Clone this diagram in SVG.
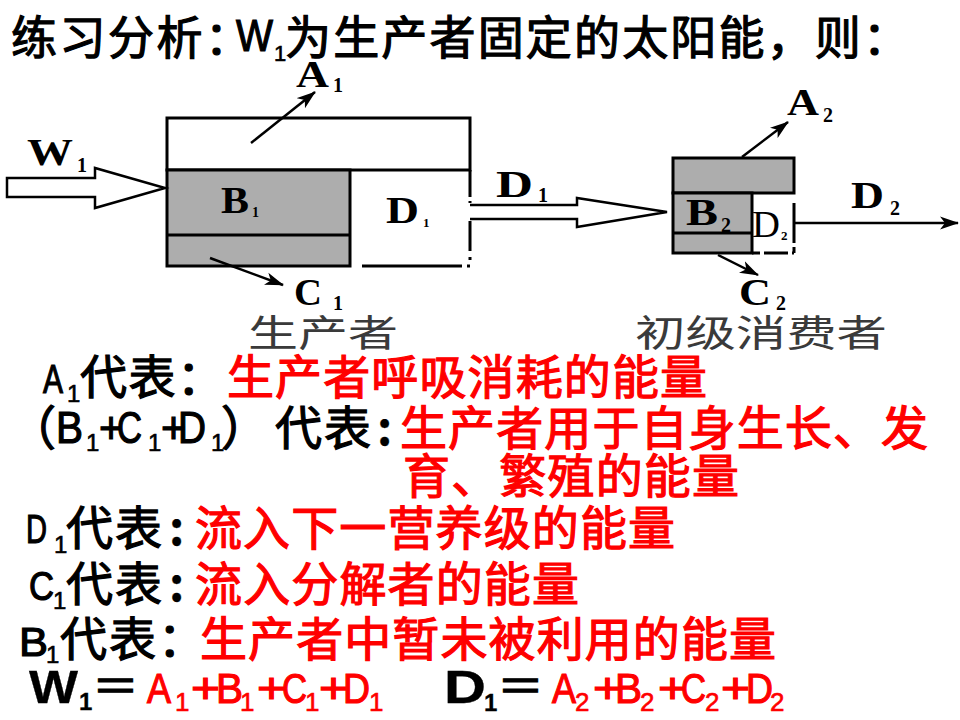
<svg xmlns="http://www.w3.org/2000/svg" width="960" height="720" viewBox="0 0 960 720">
<defs>
<style>
.cn{font-family:"Noto Sans CJK SC","Noto Sans CJK TC",sans-serif;font-size:47px;fill:#000;stroke:#000;stroke-width:1.2}
.tt{font-size:46px}
.la{font-family:"Liberation Sans",Arial,sans-serif;font-size:41px;fill:#000;stroke:#000;stroke-width:1.2}
.lf{font-size:42px}
.sub{font-family:"Liberation Sans",Arial,sans-serif;font-size:24px;fill:#000;stroke:#000;stroke-width:0.6}
.sr{font-size:26px}
.red{fill:#ff0000;stroke:#ff0000}
.bd{font-weight:bold;stroke-width:0.3}
.lb{font-family:"Liberation Serif","Times New Roman",serif;font-weight:bold;font-size:37px;fill:#000}
.ls{font-family:"Liberation Serif","Times New Roman",serif;font-weight:bold;font-size:20px;fill:#000}
.cap{font-family:"Noto Sans CJK SC",sans-serif;font-size:37px;fill:#3a3a3a}
.ln{stroke:#000;stroke-width:3;fill:none}
.gray{fill:#adadad;stroke:#000;stroke-width:3}
.conn{stroke:#000;stroke-width:2.5;fill:none}
.hollow{fill:#fff;stroke:#000;stroke-width:2.5;stroke-linejoin:miter}
</style>
<marker id="ah" markerUnits="userSpaceOnUse" markerWidth="20" markerHeight="14" refX="18" refY="7" orient="auto">
<path d="M0,0.5 L19,7 L0,13.5 L5,7 Z" fill="#000"/>
</marker>
</defs>
<rect width="960" height="720" fill="#fff"/>

<g id="title">
<text class="cn tt" x="11" y="54" textLength="240">练习分析：</text>
<text class="la" style="font-size:44px" x="236" y="51" textLength="37" lengthAdjust="spacingAndGlyphs">W</text>
<text class="sub" style="font-size:22px" x="274" y="61">1</text>
<text class="cn tt" x="285" y="54" textLength="624">为生产者固定的太阳能，则：</text>
</g>

<g id="producer">
<rect x="167" y="118" width="303" height="52" fill="#fff" stroke="#000" stroke-width="3"/>
<rect class="gray" x="167" y="170" width="183" height="96"/>
<line class="ln" x1="167" y1="235" x2="350" y2="235"/>
<line class="ln" x1="470" y1="170" x2="470" y2="203" stroke-dasharray="27 4"/>
<line class="ln" x1="470" y1="221" x2="470" y2="266" stroke-dasharray="30 6 3 6"/>
<line class="ln" x1="362" y1="266" x2="470" y2="266" stroke-dasharray="100 5 3 10"/>
<text class="lb" x="221" y="213" textLength="28" lengthAdjust="spacingAndGlyphs">B</text>
<text class="ls" style="font-size:14px" x="252" y="217">1</text>
<text class="lb" x="386" y="223" textLength="33" lengthAdjust="spacingAndGlyphs">D</text>
<text class="ls" style="font-size:13px" x="423" y="227">1</text>
<text class="cap" x="248" y="347" textLength="150" lengthAdjust="spacingAndGlyphs">生产者</text>
</g>

<g id="consumer">
<rect class="gray" x="673" y="158" width="121" height="35"/>
<rect class="gray" x="673" y="193" width="79" height="60"/>
<line class="ln" x1="673" y1="233" x2="752" y2="233"/>
<line class="ln" x1="794" y1="203" x2="794" y2="253" stroke-dasharray="40 4 6 0"/>
<line class="ln" x1="752" y1="253" x2="794" y2="253" stroke-dasharray="8 4 24 4"/>
<text class="lb" x="686" y="225" textLength="32" lengthAdjust="spacingAndGlyphs">B</text>
<text class="ls" x="721" y="232">2</text>
<text class="lb" style="font-weight:normal" x="752" y="237" textLength="28" lengthAdjust="spacingAndGlyphs">D</text>
<text class="ls" style="font-size:13px" x="781" y="240">2</text>
<text class="cap" x="635" y="347" textLength="252" lengthAdjust="spacingAndGlyphs">初级消费者</text>
</g>

<g id="connectors">
<path class="hollow" d="M7,178 L95,178 L95,168 L165,188 L95,208 L95,197 L7,197 Z"/>
<path class="hollow" d="M470,205 L577,205 L577,198 L667,212 L577,227 L577,219 L470,219"/>
<line class="conn" x1="251" y1="143" x2="315" y2="92" marker-end="url(#ah)"/>
<line class="conn" x1="210" y1="258" x2="283" y2="285" marker-end="url(#ah)"/>
<line class="conn" x1="742" y1="157" x2="788" y2="122" marker-end="url(#ah)"/>
<line class="conn" x1="718" y1="255" x2="758" y2="275" marker-end="url(#ah)"/>
<line class="conn" x1="794" y1="223" x2="958" y2="223" marker-end="url(#ah)"/>
</g>

<g id="flow-labels">
<text class="lb" x="27" y="165" textLength="46" lengthAdjust="spacingAndGlyphs">W</text>
<text class="ls" x="77" y="172">1</text>
<text class="lb" x="296" y="87" textLength="33" lengthAdjust="spacingAndGlyphs">A</text>
<text class="ls" x="333" y="92">1</text>
<text class="lb" x="294" y="305" textLength="28" lengthAdjust="spacingAndGlyphs">C</text>
<text class="ls" x="333" y="310">1</text>
<text class="lb" x="496" y="197" textLength="37" lengthAdjust="spacingAndGlyphs">D</text>
<text class="ls" x="538" y="202">1</text>
<text class="lb" x="787" y="115" textLength="32" lengthAdjust="spacingAndGlyphs">A</text>
<text class="ls" x="823" y="122">2</text>
<text class="lb" x="739" y="305" textLength="32" lengthAdjust="spacingAndGlyphs">C</text>
<text class="ls" x="776" y="310">2</text>
<text class="lb" x="851" y="208" textLength="33" lengthAdjust="spacingAndGlyphs">D</text>
<text class="ls" x="890" y="215">2</text>
</g>

<g id="notes">
<text class="la" x="43" y="393" textLength="20" lengthAdjust="spacingAndGlyphs">A</text>
<text class="sub" x="67" y="402">1</text>
<text class="cn" x="80" y="394" textLength="144">代表：</text>
<text class="cn red" x="227" y="394" textLength="480">生产者呼吸消耗的能量</text>

<text class="cn" x="56" y="445" text-anchor="end">（</text>
<text class="la" style="font-size:44px" x="56" y="443" textLength="27" lengthAdjust="spacingAndGlyphs">B</text>
<text class="sub" x="86" y="451">1</text>
<text class="la" style="font-size:44px" x="99" y="443" textLength="24" lengthAdjust="spacingAndGlyphs">+</text>
<text class="la" style="font-size:44px" x="117" y="443" textLength="25" lengthAdjust="spacingAndGlyphs">C</text>
<text class="sub" x="148" y="451">1</text>
<text class="la" style="font-size:44px" x="161" y="443" textLength="25" lengthAdjust="spacingAndGlyphs">+</text>
<text class="la" style="font-size:44px" x="178" y="443" textLength="28" lengthAdjust="spacingAndGlyphs">D</text>
<text class="sub" x="211" y="451">1</text>
<text class="cn" x="221" y="445">）</text>
<text class="cn" x="275" y="445" textLength="96">代表</text>
<text class="cn bd" x="377" y="445">:</text>
<text class="cn red" x="400" y="445" textLength="528">生产者用于自身生长、发</text>
<text class="cn red" x="403" y="493" textLength="336">育、繁殖的能量</text>

<text class="la" x="26" y="543" textLength="21" lengthAdjust="spacingAndGlyphs">D</text>
<text class="sub" x="54" y="553">1</text>
<text class="cn" x="66" y="545" textLength="96">代表</text>
<text class="cn bd" x="169" y="545">:</text>
<text class="cn red" x="195" y="545" textLength="480">流入下一营养级的能量</text>

<text class="la" x="29" y="600" textLength="25" lengthAdjust="spacingAndGlyphs">C</text>
<text class="sub" x="53" y="609">1</text>
<text class="cn" x="66" y="601" textLength="96">代表</text>
<text class="cn bd" x="169" y="601">:</text>
<text class="cn red" x="195" y="601" textLength="384">流入分解者的能量</text>

<text class="la" x="19" y="656" textLength="29" lengthAdjust="spacingAndGlyphs">B</text>
<text class="sub" x="46" y="663">1</text>
<text class="cn" x="60" y="656" textLength="96">代表</text>
<text class="cn" x="158" y="656">：</text>
<text class="cn red" x="200" y="656" textLength="576">生产者中暂未被利用的能量</text>

<text class="la bd" style="font-size:46px" x="29" y="703" textLength="49" lengthAdjust="spacingAndGlyphs">W</text>
<text class="sub bd" x="79" y="710">1</text>
<text class="cn" x="92" y="703">＝</text>
<text class="la lf red" x="147" y="703" textLength="24" lengthAdjust="spacingAndGlyphs">A</text>
<text class="sub sr red" x="175" y="711">1</text>
<text class="la lf red" x="191" y="703" textLength="29" lengthAdjust="spacingAndGlyphs">+</text>
<text class="la lf red" x="216" y="703" textLength="27" lengthAdjust="spacingAndGlyphs">B</text>
<text class="sub sr red" x="240" y="711">1</text>
<text class="la lf red" x="257" y="703" textLength="29" lengthAdjust="spacingAndGlyphs">+</text>
<text class="la lf red" x="282" y="703" textLength="25" lengthAdjust="spacingAndGlyphs">C</text>
<text class="sub sr red" x="305" y="711">1</text>
<text class="la lf red" x="319" y="703" textLength="29" lengthAdjust="spacingAndGlyphs">+</text>
<text class="la lf red" x="343" y="703" textLength="27" lengthAdjust="spacingAndGlyphs">D</text>
<text class="sub sr red" x="369" y="711">1</text>

<text class="la bd" style="font-size:46px" x="444" y="703" textLength="42" lengthAdjust="spacingAndGlyphs">D</text>
<text class="sub bd" x="484" y="711">1</text>
<text class="cn" x="497" y="703">＝</text>
<text class="la lf red" x="552" y="703" textLength="24" lengthAdjust="spacingAndGlyphs">A</text>
<text class="sub sr red" x="575" y="711">2</text>
<text class="la lf red" x="593" y="703" textLength="29" lengthAdjust="spacingAndGlyphs">+</text>
<text class="la lf red" x="615" y="703" textLength="27" lengthAdjust="spacingAndGlyphs">B</text>
<text class="sub sr red" x="640" y="711">2</text>
<text class="la lf red" x="658" y="703" textLength="29" lengthAdjust="spacingAndGlyphs">+</text>
<text class="la lf red" x="681" y="703" textLength="25" lengthAdjust="spacingAndGlyphs">C</text>
<text class="sub sr red" x="705" y="711">2</text>
<text class="la lf red" x="721" y="703" textLength="29" lengthAdjust="spacingAndGlyphs">+</text>
<text class="la lf red" x="746" y="703" textLength="27" lengthAdjust="spacingAndGlyphs">D</text>
<text class="sub sr red" x="770" y="711">2</text>
</g>
</svg>
